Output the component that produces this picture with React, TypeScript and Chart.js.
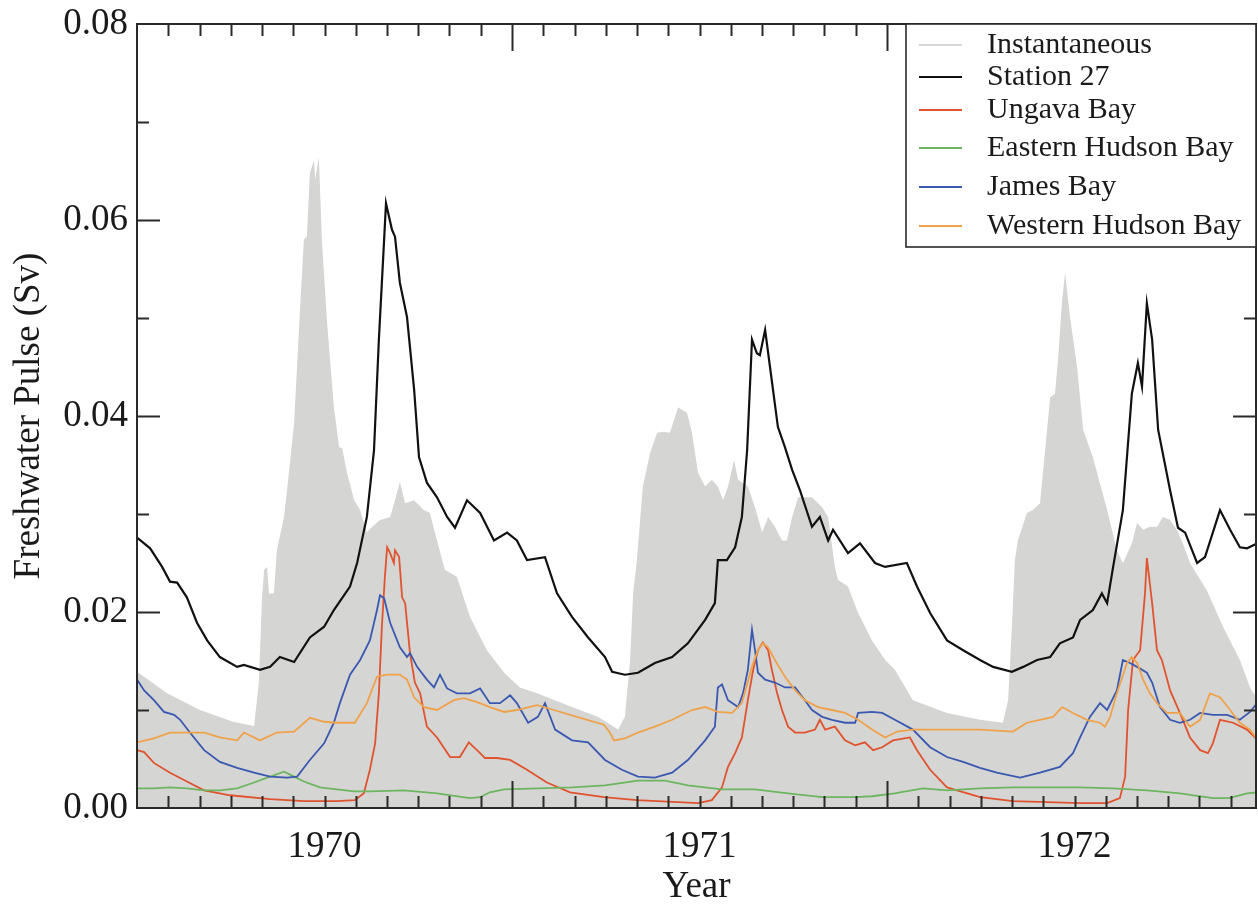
import { useEffect, useRef } from 'react';
import { Chart, registerables } from 'chart.js';

Chart.register(...registerables);

const FONT = '"Liberation Serif", "Times New Roman", serif';
const INK = '#1a1a1a';

const seriesLabels = ['Instantaneous', 'Station 27', 'Ungava Bay', 'Eastern Hudson Bay', 'James Bay', 'Western Hudson Bay'];
const seriesColors = ['#d5d5d3', '#111111', '#e0532e', '#6db560', '#3a58b0', '#f0a24a'];
const yearLabels = ['1970', '1971', '1972'];
const yTickLabels = ['0.00', '0.02', '0.04', '0.06', '0.08'];
const xAxisTitle = 'Year';
const yAxisTitle = 'Freshwater Pulse (Sv)';

// [decimal year, freshwater pulse in Sv]
const instantaneous: [number, number][] = [
  [1970.000, 0.0139], [1970.080, 0.0117], [1970.168, 0.0100], [1970.256, 0.0088], [1970.309, 0.0084],
  [1970.312, 0.0083], [1970.325, 0.0128], [1970.333, 0.0212], [1970.339, 0.0243], [1970.347, 0.0246],
  [1970.352, 0.0219], [1970.365, 0.0219], [1970.373, 0.0263], [1970.392, 0.0297], [1970.400, 0.0324],
  [1970.419, 0.0393], [1970.435, 0.0511], [1970.445, 0.0580], [1970.453, 0.0583], [1970.461, 0.0648],
  [1970.472, 0.0661], [1970.475, 0.0641], [1970.485, 0.0664], [1970.493, 0.0580], [1970.507, 0.0495],
  [1970.525, 0.0409], [1970.539, 0.0368], [1970.547, 0.0367], [1970.560, 0.0342], [1970.579, 0.0314],
  [1970.595, 0.0304], [1970.613, 0.0281], [1970.627, 0.0287], [1970.648, 0.0294], [1970.675, 0.0297],
  [1970.688, 0.0314], [1970.701, 0.0333], [1970.715, 0.0311], [1970.739, 0.0314], [1970.765, 0.0304],
  [1970.781, 0.0301], [1970.800, 0.0273], [1970.821, 0.0243], [1970.853, 0.0236], [1970.888, 0.0195],
  [1970.933, 0.0161], [1970.979, 0.0138], [1971.021, 0.0123], [1971.067, 0.0117], [1971.160, 0.0103],
  [1971.229, 0.0093], [1971.283, 0.0080], [1971.301, 0.0093], [1971.315, 0.0151], [1971.323, 0.0219],
  [1971.333, 0.0253], [1971.349, 0.0328], [1971.368, 0.0362], [1971.387, 0.0383], [1971.403, 0.0384],
  [1971.421, 0.0383], [1971.443, 0.0409], [1971.467, 0.0403], [1971.480, 0.0383], [1971.496, 0.0342],
  [1971.515, 0.0328], [1971.533, 0.0335], [1971.549, 0.0328], [1971.563, 0.0314], [1971.576, 0.0328],
  [1971.592, 0.0355], [1971.603, 0.0335], [1971.629, 0.0328], [1971.648, 0.0307], [1971.667, 0.0281],
  [1971.683, 0.0297], [1971.701, 0.0287], [1971.720, 0.0273], [1971.733, 0.0273], [1971.747, 0.0297],
  [1971.763, 0.0317], [1971.800, 0.0317], [1971.827, 0.0307], [1971.843, 0.0297], [1971.861, 0.0246],
  [1971.869, 0.0233], [1971.896, 0.0226], [1971.923, 0.0199], [1971.960, 0.0171], [1971.995, 0.0151],
  [1972.021, 0.0141], [1972.069, 0.0110], [1972.160, 0.0097], [1972.248, 0.0090], [1972.309, 0.0087],
  [1972.323, 0.0110], [1972.333, 0.0185], [1972.341, 0.0253], [1972.349, 0.0273], [1972.373, 0.0301],
  [1972.389, 0.0304], [1972.408, 0.0311], [1972.435, 0.0419], [1972.448, 0.0423], [1972.456, 0.0457],
  [1972.467, 0.0518], [1972.475, 0.0546], [1972.488, 0.0501], [1972.507, 0.0450], [1972.523, 0.0386],
  [1972.549, 0.0358], [1972.587, 0.0304], [1972.613, 0.0263], [1972.629, 0.0250], [1972.653, 0.0270],
  [1972.667, 0.0291], [1972.683, 0.0284], [1972.701, 0.0287], [1972.720, 0.0287], [1972.736, 0.0297],
  [1972.755, 0.0294], [1972.773, 0.0284], [1972.789, 0.0270], [1972.808, 0.0250], [1972.853, 0.0222],
  [1972.896, 0.0185], [1972.941, 0.0151], [1972.968, 0.0123], [1972.989, 0.0110],
];

const station27: [number, number][] = [
  [1970.000, 0.0276], [1970.035, 0.0265], [1970.067, 0.0246], [1970.088, 0.0231], [1970.107, 0.0230],
  [1970.133, 0.0215], [1970.160, 0.0189], [1970.187, 0.0171], [1970.221, 0.0154], [1970.267, 0.0144],
  [1970.285, 0.0146], [1970.328, 0.0141], [1970.355, 0.0144], [1970.381, 0.0154], [1970.419, 0.0149],
  [1970.461, 0.0174], [1970.499, 0.0185], [1970.525, 0.0202], [1970.568, 0.0226], [1970.587, 0.0250],
  [1970.613, 0.0297], [1970.632, 0.0365], [1970.645, 0.0478], [1970.659, 0.0580], [1970.664, 0.0617],
  [1970.680, 0.0590], [1970.688, 0.0583], [1970.701, 0.0536], [1970.720, 0.0501], [1970.739, 0.0427],
  [1970.752, 0.0358], [1970.773, 0.0332], [1970.800, 0.0317], [1970.827, 0.0297], [1970.848, 0.0286],
  [1970.880, 0.0314], [1970.915, 0.0301], [1970.952, 0.0273], [1970.987, 0.0281], [1971.013, 0.0273],
  [1971.040, 0.0253], [1971.088, 0.0256], [1971.120, 0.0219], [1971.160, 0.0195], [1971.203, 0.0174],
  [1971.248, 0.0154], [1971.267, 0.0139], [1971.301, 0.0136], [1971.336, 0.0138], [1971.381, 0.0148],
  [1971.427, 0.0154], [1971.469, 0.0168], [1971.515, 0.0192], [1971.541, 0.0209], [1971.549, 0.0253],
  [1971.573, 0.0253], [1971.595, 0.0266], [1971.613, 0.0297], [1971.627, 0.0365], [1971.640, 0.0478],
  [1971.653, 0.0464], [1971.661, 0.0462], [1971.675, 0.0488], [1971.688, 0.0450], [1971.709, 0.0389],
  [1971.728, 0.0368], [1971.747, 0.0345], [1971.768, 0.0324], [1971.800, 0.0287], [1971.821, 0.0297],
  [1971.843, 0.0273], [1971.856, 0.0284], [1971.896, 0.0260], [1971.928, 0.0270], [1971.968, 0.0250],
  [1971.995, 0.0246], [1972.053, 0.0250], [1972.080, 0.0226], [1972.115, 0.0199], [1972.160, 0.0171],
  [1972.203, 0.0161], [1972.248, 0.0151], [1972.283, 0.0144], [1972.333, 0.0139], [1972.363, 0.0144],
  [1972.400, 0.0151], [1972.435, 0.0154], [1972.461, 0.0168], [1972.496, 0.0174], [1972.515, 0.0192],
  [1972.549, 0.0202], [1972.573, 0.0219], [1972.587, 0.0209], [1972.603, 0.0246], [1972.629, 0.0304],
  [1972.653, 0.0423], [1972.669, 0.0454], [1972.680, 0.0430], [1972.693, 0.0515], [1972.707, 0.0478],
  [1972.723, 0.0386], [1972.755, 0.0324], [1972.776, 0.0286], [1972.795, 0.0281], [1972.827, 0.0250],
  [1972.848, 0.0256], [1972.888, 0.0304], [1972.915, 0.0284], [1972.941, 0.0266], [1972.960, 0.0265],
  [1972.987, 0.0270],
];

const ungavaBay: [number, number][] = [
  [1970.000, 0.0059], [1970.019, 0.0057], [1970.045, 0.0046], [1970.088, 0.0036], [1970.133, 0.0027],
  [1970.179, 0.0018], [1970.248, 0.0013], [1970.355, 0.0009], [1970.445, 0.0007], [1970.533, 0.0007],
  [1970.581, 0.0008], [1970.605, 0.0015], [1970.621, 0.0039], [1970.635, 0.0066], [1970.645, 0.0117],
  [1970.653, 0.0185], [1970.661, 0.0236], [1970.667, 0.0266], [1970.675, 0.0260], [1970.685, 0.0250],
  [1970.688, 0.0263], [1970.699, 0.0256], [1970.707, 0.0215], [1970.715, 0.0209], [1970.728, 0.0158],
  [1970.741, 0.0128], [1970.755, 0.0117], [1970.773, 0.0083], [1970.800, 0.0072], [1970.835, 0.0052],
  [1970.861, 0.0052], [1970.885, 0.0067], [1970.915, 0.0056], [1970.928, 0.0051], [1970.960, 0.0051],
  [1970.995, 0.0049], [1971.040, 0.0039], [1971.093, 0.0026], [1971.155, 0.0016], [1971.245, 0.0011],
  [1971.333, 0.0008], [1971.496, 0.0005], [1971.533, 0.0008], [1971.560, 0.0021], [1971.576, 0.0042],
  [1971.595, 0.0056], [1971.613, 0.0072], [1971.629, 0.0110], [1971.643, 0.0141], [1971.656, 0.0161],
  [1971.669, 0.0169], [1971.683, 0.0161], [1971.693, 0.0141], [1971.707, 0.0117], [1971.720, 0.0100],
  [1971.736, 0.0083], [1971.755, 0.0077], [1971.781, 0.0077], [1971.808, 0.0080], [1971.821, 0.0090],
  [1971.835, 0.0080], [1971.861, 0.0083], [1971.888, 0.0069], [1971.915, 0.0064], [1971.941, 0.0067],
  [1971.963, 0.0059], [1971.987, 0.0062], [1972.016, 0.0069], [1972.061, 0.0072], [1972.080, 0.0059],
  [1972.115, 0.0039], [1972.160, 0.0021], [1972.248, 0.0011], [1972.336, 0.0007], [1972.427, 0.0006],
  [1972.515, 0.0005], [1972.587, 0.0005], [1972.621, 0.0010], [1972.635, 0.0032], [1972.643, 0.0100],
  [1972.656, 0.0151], [1972.675, 0.0161], [1972.688, 0.0219], [1972.693, 0.0255], [1972.707, 0.0209],
  [1972.720, 0.0161], [1972.733, 0.0151], [1972.755, 0.0120], [1972.781, 0.0097], [1972.808, 0.0072],
  [1972.835, 0.0059], [1972.856, 0.0056], [1972.869, 0.0066], [1972.888, 0.0090], [1972.923, 0.0087],
  [1972.960, 0.0080], [1972.989, 0.0069],
];

const easternHudsonBay: [number, number][] = [
  [1970.000, 0.0020], [1970.045, 0.0020], [1970.088, 0.0021], [1970.133, 0.0020], [1970.179, 0.0018],
  [1970.221, 0.0018], [1970.267, 0.0020], [1970.312, 0.0026], [1970.355, 0.0032], [1970.392, 0.0037],
  [1970.419, 0.0032], [1970.445, 0.0027], [1970.488, 0.0021], [1970.533, 0.0019], [1970.579, 0.0017],
  [1970.621, 0.0017], [1970.712, 0.0018], [1970.800, 0.0015], [1970.888, 0.0010], [1970.915, 0.0011],
  [1970.941, 0.0016], [1970.979, 0.0019], [1971.069, 0.0020], [1971.160, 0.0021], [1971.248, 0.0023],
  [1971.336, 0.0028], [1971.408, 0.0028], [1971.469, 0.0023], [1971.560, 0.0019], [1971.648, 0.0019],
  [1971.736, 0.0015], [1971.827, 0.0011], [1971.915, 0.0011], [1971.960, 0.0012], [1972.021, 0.0015],
  [1972.035, 0.0016], [1972.096, 0.0020], [1972.160, 0.0018], [1972.248, 0.0020], [1972.336, 0.0021],
  [1972.427, 0.0021], [1972.515, 0.0021], [1972.603, 0.0020], [1972.693, 0.0018], [1972.781, 0.0015],
  [1972.869, 0.0010], [1972.912, 0.0010], [1972.960, 0.0015], [1972.989, 0.0016],
];

const jamesBay: [number, number][] = [
  [1970.000, 0.0131], [1970.019, 0.0120], [1970.045, 0.0110], [1970.072, 0.0098], [1970.099, 0.0095],
  [1970.115, 0.0090], [1970.141, 0.0077], [1970.179, 0.0059], [1970.221, 0.0047], [1970.267, 0.0041],
  [1970.312, 0.0036], [1970.355, 0.0032], [1970.400, 0.0031], [1970.427, 0.0032], [1970.461, 0.0049],
  [1970.499, 0.0066], [1970.525, 0.0087], [1970.541, 0.0107], [1970.568, 0.0136], [1970.595, 0.0151],
  [1970.621, 0.0171], [1970.640, 0.0202], [1970.648, 0.0217], [1970.659, 0.0214], [1970.675, 0.0189],
  [1970.701, 0.0164], [1970.720, 0.0154], [1970.728, 0.0158], [1970.747, 0.0144], [1970.773, 0.0131],
  [1970.792, 0.0123], [1970.808, 0.0136], [1970.827, 0.0122], [1970.853, 0.0117], [1970.888, 0.0117],
  [1970.915, 0.0122], [1970.941, 0.0107], [1970.968, 0.0107], [1970.995, 0.0115], [1971.013, 0.0107],
  [1971.043, 0.0087], [1971.069, 0.0093], [1971.088, 0.0107], [1971.115, 0.0080], [1971.160, 0.0069],
  [1971.203, 0.0067], [1971.248, 0.0049], [1971.293, 0.0039], [1971.336, 0.0032], [1971.381, 0.0031],
  [1971.427, 0.0036], [1971.469, 0.0049], [1971.515, 0.0069], [1971.541, 0.0083], [1971.549, 0.0123],
  [1971.560, 0.0126], [1971.576, 0.0110], [1971.603, 0.0103], [1971.616, 0.0117], [1971.629, 0.0141],
  [1971.640, 0.0182], [1971.648, 0.0161], [1971.656, 0.0138], [1971.675, 0.0131], [1971.701, 0.0128],
  [1971.728, 0.0123], [1971.755, 0.0123], [1971.781, 0.0110], [1971.800, 0.0100], [1971.827, 0.0093],
  [1971.853, 0.0090], [1971.888, 0.0087], [1971.915, 0.0087], [1971.923, 0.0097], [1971.960, 0.0098],
  [1971.987, 0.0097], [1972.021, 0.0090], [1972.069, 0.0080], [1972.115, 0.0062], [1972.160, 0.0052],
  [1972.203, 0.0047], [1972.248, 0.0041], [1972.293, 0.0036], [1972.355, 0.0031], [1972.408, 0.0036],
  [1972.461, 0.0042], [1972.496, 0.0056], [1972.515, 0.0072], [1972.541, 0.0093], [1972.568, 0.0107],
  [1972.587, 0.0100], [1972.613, 0.0120], [1972.629, 0.0151], [1972.648, 0.0148], [1972.667, 0.0144],
  [1972.693, 0.0138], [1972.707, 0.0128], [1972.728, 0.0103], [1972.755, 0.0090], [1972.781, 0.0087],
  [1972.808, 0.0090], [1972.835, 0.0097], [1972.869, 0.0095], [1972.907, 0.0095], [1972.941, 0.0090],
  [1972.968, 0.0098], [1972.989, 0.0108],
];

const westernHudsonBay: [number, number][] = [
  [1970.000, 0.0067], [1970.045, 0.0071], [1970.088, 0.0077], [1970.133, 0.0077], [1970.179, 0.0077],
  [1970.221, 0.0072], [1970.267, 0.0069], [1970.285, 0.0077], [1970.328, 0.0069], [1970.373, 0.0077],
  [1970.419, 0.0078], [1970.461, 0.0092], [1970.499, 0.0088], [1970.533, 0.0087], [1970.581, 0.0087],
  [1970.613, 0.0107], [1970.640, 0.0134], [1970.667, 0.0136], [1970.701, 0.0136], [1970.720, 0.0131],
  [1970.739, 0.0113], [1970.765, 0.0103], [1970.800, 0.0100], [1970.845, 0.0110], [1970.872, 0.0112],
  [1970.907, 0.0108], [1970.941, 0.0103], [1970.979, 0.0098], [1971.013, 0.0100], [1971.067, 0.0105],
  [1971.112, 0.0100], [1971.173, 0.0093], [1971.245, 0.0085], [1971.261, 0.0077], [1971.272, 0.0069],
  [1971.301, 0.0071], [1971.336, 0.0077], [1971.381, 0.0083], [1971.427, 0.0090], [1971.480, 0.0100],
  [1971.515, 0.0103], [1971.549, 0.0098], [1971.587, 0.0097], [1971.613, 0.0107], [1971.640, 0.0144],
  [1971.656, 0.0161], [1971.669, 0.0168], [1971.683, 0.0164], [1971.701, 0.0151], [1971.728, 0.0134],
  [1971.755, 0.0120], [1971.781, 0.0110], [1971.816, 0.0103], [1971.853, 0.0100], [1971.888, 0.0097],
  [1971.923, 0.0090], [1971.960, 0.0080], [1971.995, 0.0072], [1972.027, 0.0078], [1972.069, 0.0080],
  [1972.160, 0.0080], [1972.248, 0.0080], [1972.336, 0.0078], [1972.373, 0.0087], [1972.408, 0.0090],
  [1972.443, 0.0093], [1972.467, 0.0103], [1972.496, 0.0097], [1972.533, 0.0090], [1972.568, 0.0087],
  [1972.581, 0.0083], [1972.595, 0.0093], [1972.613, 0.0117], [1972.640, 0.0148], [1972.653, 0.0154],
  [1972.667, 0.0148], [1972.683, 0.0131], [1972.701, 0.0117], [1972.720, 0.0107], [1972.747, 0.0097],
  [1972.781, 0.0097], [1972.808, 0.0083], [1972.835, 0.0090], [1972.861, 0.0117], [1972.888, 0.0113],
  [1972.915, 0.0100], [1972.941, 0.0087], [1972.968, 0.0080], [1972.989, 0.0069],
];

const seriesData = [instantaneous, station27, ungavaBay, easternHudsonBay, jamesBay, westernHudsonBay];

const X_MIN = 1970;
const X_MAX = 1972.984;
const Y_MIN = 0;
const Y_MAX = 0.08;

// Inward monthly / yearly ticks on all four sides, the plot frame and the boxed legend.
const frameAndLegend = {
  id: 'frameAndLegend',
  afterDatasetsDraw(chart: any) {
    const { ctx, chartArea: a, scales } = chart;
    const xs = scales.x;
    const ys = scales.y;
    ctx.save();
    ctx.strokeStyle = '#2a2a2a';
    ctx.lineWidth = 2;
    ctx.beginPath();
    for (let k = 1; k < 48; k++) {
      const v = X_MIN + k / 12;
      if (v > xs.max) break;
      const px = Math.round(xs.getPixelForValue(v)) + 0.5;
      const len = k % 12 === 0 ? 27 : 12;
      ctx.moveTo(px, a.bottom);
      ctx.lineTo(px, a.bottom - len);
      ctx.moveTo(px, a.top);
      ctx.lineTo(px, a.top + len);
    }
    for (let k = 1; k < 8; k++) {
      const py = Math.round(ys.getPixelForValue(k * 0.01)) + 0.5;
      const len = k % 2 === 0 ? 23 : 12;
      ctx.moveTo(a.left, py);
      ctx.lineTo(a.left + len, py);
      ctx.moveTo(a.right, py);
      ctx.lineTo(a.right - len, py);
    }
    ctx.stroke();
    ctx.strokeRect(a.left, a.top, a.right - a.left, a.bottom - a.top);

    // legend box in the upper right corner
    const boxLeft = 906;
    const boxBottom = a.top + 223;
    ctx.fillStyle = '#ffffff';
    ctx.fillRect(boxLeft, a.top, a.right - boxLeft, boxBottom - a.top);
    ctx.lineWidth = 1.6;
    ctx.strokeStyle = '#2a2a2a';
    ctx.strokeRect(boxLeft, a.top, a.right - boxLeft, boxBottom - a.top);
    const rows = [21, 53, 86, 124, 163, 202];
    ctx.font = `30px ${FONT}`;
    ctx.textBaseline = 'middle';
    ctx.textAlign = 'left';
    seriesLabels.forEach((label, i) => {
      const y = a.top + rows[i];
      ctx.beginPath();
      ctx.strokeStyle = seriesColors[i];
      ctx.lineWidth = i === 1 ? 2.2 : 2;
      ctx.moveTo(boxLeft + 13, y);
      ctx.lineTo(boxLeft + 56, y);
      ctx.stroke();
      ctx.fillStyle = INK;
      ctx.fillText(label, boxLeft + 81, y);
    });
    ctx.restore();
  },
};

export default function App() {
  const canvasRef = useRef<HTMLCanvasElement>(null);

  useEffect(() => {
    const canvas = canvasRef.current;
    if (!canvas) return;

    const datasets = seriesData.map((pts, i) => {
      const isArea = i === 0;
      return {
        label: seriesLabels[i],
        data: pts.map(([x, y]) => ({ x, y })),
        borderColor: seriesColors[i],
        backgroundColor: seriesColors[i],
        borderWidth: isArea ? 0 : i === 1 ? 2.2 : 1.8,
        pointRadius: 0,
        tension: 0,
        fill: isArea ? 'origin' : false,
        order: isArea ? 10 : 6 - i,
      };
    });

    const tickFont = { family: FONT, size: 37 };

    const chart = new Chart(canvas, {
      type: 'line',
      data: { datasets } as any,
      options: {
        animation: false,
        responsive: false,
        devicePixelRatio: 1,
        layout: { padding: { top: 24, right: 2, left: 0, bottom: 0 } },
        plugins: {
          legend: { display: false },
          tooltip: { enabled: false },
        },
        scales: {
          x: {
            type: 'linear',
            min: X_MIN,
            max: X_MAX,
            afterBuildTicks: (s: any) => {
              s.ticks = yearLabels.map((_, i) => ({ value: X_MIN + 0.5 + i }));
            },
            afterFit: (s: any) => {
              s.height = 103;
              s.paddingLeft = 0;
              s.paddingRight = 0;
            },
            ticks: {
              callback: (_v: any, i: number) => yearLabels[i],
              font: tickFont,
              color: INK,
              padding: 17,
              maxRotation: 0,
              autoSkip: false,
            },
            grid: { display: false, drawTicks: false },
            border: { display: false },
            title: {
              display: true,
              text: xAxisTitle,
              font: tickFont,
              color: INK,
              padding: { top: 0, bottom: 2 },
            },
          },
          y: {
            type: 'linear',
            min: Y_MIN,
            max: Y_MAX,
            afterBuildTicks: (s: any) => {
              s.ticks = yTickLabels.map((t) => ({ value: parseFloat(t) }));
            },
            afterFit: (s: any) => {
              s.width = 137;
              s.paddingTop = 0;
              s.paddingBottom = 0;
            },
            ticks: {
              callback: (_v: any, i: number) => yTickLabels[i],
              font: tickFont,
              color: INK,
              padding: 9,
            },
            grid: { display: false, drawTicks: false },
            border: { display: false },
            title: {
              display: true,
              text: yAxisTitle,
              font: tickFont,
              color: INK,
              padding: { top: 7, bottom: 0 },
            },
          },
        },
      } as any,
      plugins: [frameAndLegend],
    });

    return () => chart.destroy();
  }, []);

  return (
    <div style={{ position: 'absolute', left: 0, top: 0, width: 1258, height: 911, background: '#ffffff' }}>
      <canvas ref={canvasRef} width={1258} height={911} style={{ display: 'block', width: 1258, height: 911 }} />
    </div>
  );
}
